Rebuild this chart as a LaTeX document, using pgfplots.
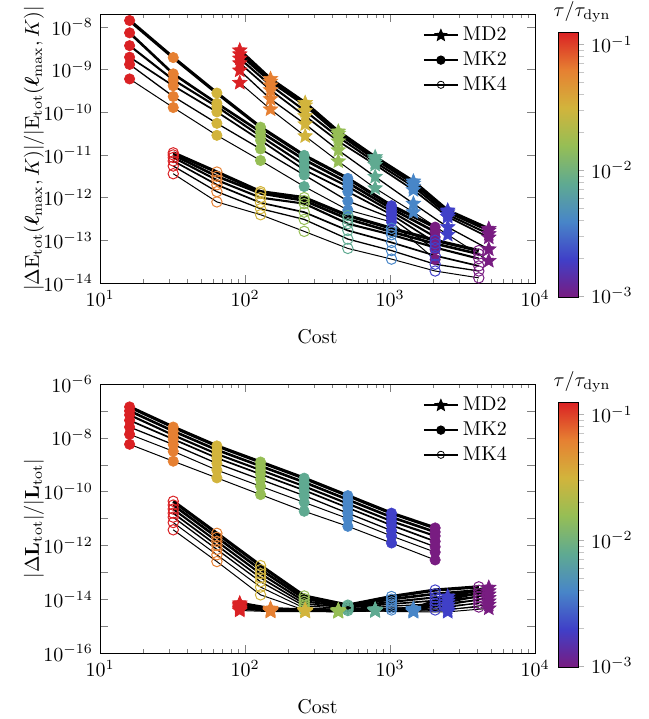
\documentclass[border=0pt]{standalone}
\usepackage{amsmath}
\usepackage{pgfplots}
\pgfplotsset{compat=1.18}
\usetikzlibrary{plotmarks}

\pgfdeclareplotmark{fstar}{%
  \pgfpathmoveto{\pgfpointpolar{90}{\pgfplotmarksize}}%
  \pgfpathlineto{\pgfpointpolar{126}{0.45\pgfplotmarksize}}%
  \pgfpathlineto{\pgfpointpolar{162}{\pgfplotmarksize}}%
  \pgfpathlineto{\pgfpointpolar{198}{0.45\pgfplotmarksize}}%
  \pgfpathlineto{\pgfpointpolar{234}{\pgfplotmarksize}}%
  \pgfpathlineto{\pgfpointpolar{270}{0.45\pgfplotmarksize}}%
  \pgfpathlineto{\pgfpointpolar{306}{\pgfplotmarksize}}%
  \pgfpathlineto{\pgfpointpolar{342}{0.45\pgfplotmarksize}}%
  \pgfpathlineto{\pgfpointpolar{18}{\pgfplotmarksize}}%
  \pgfpathlineto{\pgfpointpolar{54}{0.45\pgfplotmarksize}}%
  \pgfpathclose
  \pgfusepathqfillstroke}

\pgfplotsset{
  colormap={tol}{rgb255=(120,28,129) rgb255=(64,64,200) rgb255=(72,134,200) rgb255=(95,170,145) rgb255=(150,190,85) rgb255=(210,180,60) rgb255=(230,128,50) rgb255=(218,33,36)},
  mybase/.style={black, forget plot, scatter, point meta=explicit},
  mk2/.style={mybase, mark=*, mark size=2.6pt, mark options={line width=0.3pt}, scatter/use mapped color={draw=mapped color, fill=mapped color}},
  mk4/.style={mybase, mark=o, mark size=2.6pt, mark options={line width=0.5pt}, scatter/use mapped color={draw=mapped color}},
  md2/.style={mybase, mark=fstar, mark size=3.8pt, mark options={line width=0.3pt}, scatter/use mapped color={draw=mapped color, fill=mapped color}},
  wa/.style={line width=1.6pt}, wb/.style={line width=1.3pt}, wc/.style={line width=1.05pt},
  wd/.style={line width=0.85pt}, we/.style={line width=0.65pt}, wf/.style={line width=0.5pt},
}

\begin{document}
\begin{tikzpicture}
\path[use as bounding box] (0,0) rectangle (324.5pt,-359.5pt);

\begin{axis}[at={(50pt,-7pt)}, anchor=north west,
    scale only axis, width=217.5pt, height=134.5pt,
    xmode=log, ymode=log, xmin=10, xmax=1e4,
    xlabel={Cost}, xlabel style={yshift=-4.5pt}, ylabel shift=-7pt,
    major tick length=4pt, minor tick length=2pt,
    colormap name=tol, point meta min=-3.0103, point meta max=-0.9031,
    colorbar, colorbar style={
      scale only axis, width=10pt, height=132.5pt,
      at={(parent axis.north east)}, anchor=north west, xshift=3pt, yshift=-9pt,
      ytick={-3,-2,-1}, yticklabels={$10^{-3}$,$10^{-2}$,$10^{-1}$},
      minor ytick={-2.699,-2.523,-2.398,-2.301,-2.222,-2.155,-2.097,-2.046,-1.699,-1.523,-1.398,-1.301,-1.222,-1.155,-1.097,-1.046},
      ytick pos=right, yticklabel pos=right, tick align=outside,
      major tick length=3pt, minor tick length=3pt,
      tick style={gray!60}, minor tick style={gray!45},
      title={$\tau/\tau_{\mathrm{dyn}}$}, title style={yshift=-4.5pt, xshift=7pt}},
    legend style={draw=none, fill=none, at={(0.95,0.975)}, anchor=north east, row sep=0pt, inner sep=1pt},
    legend cell align=left,
  ymin=1e-14, ymax=2e-8, yminorticks=false,
  ytick={1e-14,1e-13,1e-12,1e-11,1e-10,1e-9,1e-8},
  ylabel={$|\Delta \mathrm{E}_{\mathrm{tot}}(\boldsymbol{\ell}_{\max},K)|/|\mathrm{E}_{\mathrm{tot}}(\boldsymbol{\ell}_{\max},K)|$}]
\addlegendimage{black, line width=1pt, mark=fstar, mark size=2.3pt}
\addlegendimage{black, line width=1pt, mark=*, mark size=1.8pt}
\addlegendimage{black, line width=1pt, mark=o, mark size=1.8pt, mark options={line width=0.4pt}}
\legend{MD2,MK2,MK4}
% MD2
\addplot[md2,wa] coordinates {(92,2.82e-9)[-0.903] (150,6.03e-10)[-1.204] (260,1.66e-10)[-1.505] (440,3.55e-11)[-1.806] (790,8.91e-12)[-2.107] (1450,2.40e-12)[-2.408] (2500,5.01e-13)[-2.709] (4800,1.86e-13)[-3.010]};
\addplot[md2,wb] coordinates {(92,2.29e-9)[-0.903] (150,5.25e-10)[-1.204] (260,1.45e-10)[-1.505] (440,3.16e-11)[-1.806] (790,7.94e-12)[-2.107] (1450,2.14e-12)[-2.408] (2500,4.57e-13)[-2.709] (4800,1.70e-13)[-3.010]};
\addplot[md2,wc] coordinates {(92,1.82e-9)[-0.903] (150,4.27e-10)[-1.204] (260,1.07e-10)[-1.505] (440,2.63e-11)[-1.806] (790,6.76e-12)[-2.107] (1450,1.82e-12)[-2.408] (2500,3.98e-13)[-2.709] (4800,1.41e-13)[-3.010]};
\addplot[md2,wd] coordinates {(92,1.41e-9)[-0.903] (150,3.31e-10)[-1.204] (260,8.13e-11)[-1.505] (440,2.09e-11)[-1.806] (790,5.89e-12)[-2.107] (1450,1.51e-12)[-2.408] (2500,3.55e-13)[-2.709] (4800,1.17e-13)[-3.010]};
\addplot[md2,we] coordinates {(92,9.55e-10)[-0.903] (150,2.04e-10)[-1.204] (260,5.25e-11)[-1.505] (440,1.29e-11)[-1.806] (790,3.09e-12)[-2.107] (1450,7.24e-13)[-2.408] (2500,2.04e-13)[-2.709] (4800,6.17e-14)[-3.010]};
\addplot[md2,wf] coordinates {(92,4.90e-10)[-0.903] (150,1.17e-10)[-1.204] (260,2.75e-11)[-1.505] (440,7.08e-12)[-1.806] (790,1.66e-12)[-2.107] (1450,4.57e-13)[-2.408] (2500,1.35e-13)[-2.709] (4800,3.31e-14)[-3.010]};
% MK2
\addplot[mk2,wa] coordinates {(16,1.41e-8)[-0.903] (32,1.91e-9)[-1.204] (64,2.82e-10)[-1.505] (128,4.47e-11)[-1.806] (256,9.77e-12)[-2.107] (512,2.82e-12)[-2.408] (1024,6.46e-13)[-2.709] (2048,2.04e-13)[-3.010]};
\addplot[mk2,wb] coordinates {(16,7.24e-9)[-0.903] (32,7.94e-10)[-1.204] (64,1.62e-10)[-1.505] (128,3.47e-11)[-1.806] (256,7.76e-12)[-2.107] (512,2.24e-12)[-2.408] (1024,5.50e-13)[-2.709] (2048,1.58e-13)[-3.010]};
\addplot[mk2,wc] coordinates {(16,3.63e-9)[-0.903] (32,5.75e-10)[-1.204] (64,1.35e-10)[-1.505] (128,2.75e-11)[-1.806] (256,5.89e-12)[-2.107] (512,1.82e-12)[-2.408] (1024,4.68e-13)[-2.709] (2048,1.20e-13)[-3.010]};
\addplot[mk2,wd] coordinates {(16,1.95e-9)[-0.903] (32,4.17e-10)[-1.204] (64,1.02e-10)[-1.505] (128,2.19e-11)[-1.806] (256,4.47e-12)[-2.107] (512,1.38e-12)[-2.408] (1024,3.98e-13)[-2.709] (2048,8.91e-14)[-3.010]};
\addplot[mk2,we] coordinates {(16,1.32e-9)[-0.903] (32,2.34e-10)[-1.204] (64,5.50e-11)[-1.505] (128,1.38e-11)[-1.806] (256,3.39e-12)[-2.107] (512,8.32e-13)[-2.408] (1024,3.31e-13)[-2.709] (2048,6.03e-14)[-3.010]};
\addplot[mk2,wf] coordinates {(16,6.03e-10)[-0.903] (32,1.29e-10)[-1.204] (64,2.88e-11)[-1.505] (128,7.41e-12)[-1.806] (256,1.82e-12)[-2.107] (512,5.13e-13)[-2.408] (1024,2.69e-13)[-2.709] (2048,3.55e-14)[-3.010]};
% MK4
\addplot[mk4,wa] coordinates {(32,1.12e-11)[-0.903] (64,3.98e-12)[-1.204] (128,1.38e-12)[-1.505] (256,1.00e-12)[-1.806] (512,3.80e-13)[-2.107] (1024,1.91e-13)[-2.408] (2048,1.00e-13)[-2.709] (4096,5.75e-14)[-3.010]};
\addplot[mk4,wb] coordinates {(32,1.00e-11)[-0.903] (64,3.16e-12)[-1.204] (128,1.26e-12)[-1.505] (256,8.51e-13)[-1.806] (512,3.16e-13)[-2.107] (1024,1.58e-13)[-2.408] (2048,8.32e-14)[-2.709] (4096,4.79e-14)[-3.010]};
\addplot[mk4,wc] coordinates {(32,8.71e-12)[-0.903] (64,2.57e-12)[-1.204] (128,1.00e-12)[-1.505] (256,7.24e-13)[-1.806] (512,2.45e-13)[-2.107] (1024,1.35e-13)[-2.408] (2048,6.76e-14)[-2.709] (4096,3.72e-14)[-3.010]};
\addplot[mk4,wd] coordinates {(32,7.24e-12)[-0.903] (64,2.00e-12)[-1.204] (128,7.59e-13)[-1.505] (256,4.57e-13)[-1.806] (512,1.70e-13)[-2.107] (1024,8.91e-14)[-2.408] (2048,4.37e-14)[-2.709] (4096,2.51e-14)[-3.010]};
\addplot[mk4,we] coordinates {(32,5.50e-12)[-0.903] (64,1.38e-12)[-1.204] (128,5.50e-13)[-1.505] (256,3.09e-13)[-1.806] (512,1.07e-13)[-2.107] (1024,5.75e-14)[-2.408] (2048,2.75e-14)[-2.709] (4096,1.91e-14)[-3.010]};
\addplot[mk4,wf] coordinates {(32,3.63e-12)[-0.903] (64,7.94e-13)[-1.204] (128,3.98e-13)[-1.505] (256,1.62e-13)[-1.806] (512,6.46e-14)[-2.107] (1024,3.63e-14)[-2.408] (2048,1.91e-14)[-2.709] (4096,1.32e-14)[-3.010]};
\end{axis}

\begin{axis}[at={(50pt,-192pt)}, anchor=north west,
    scale only axis, width=217.5pt, height=134.5pt,
    xmode=log, ymode=log, xmin=10, xmax=1e4,
    xlabel={Cost}, xlabel style={yshift=-4.5pt}, ylabel shift=-7pt,
    major tick length=4pt, minor tick length=2pt,
    colormap name=tol, point meta min=-3.0103, point meta max=-0.9031,
    colorbar, colorbar style={
      scale only axis, width=10pt, height=132.5pt,
      at={(parent axis.north east)}, anchor=north west, xshift=3pt, yshift=-9pt,
      ytick={-3,-2,-1}, yticklabels={$10^{-3}$,$10^{-2}$,$10^{-1}$},
      minor ytick={-2.699,-2.523,-2.398,-2.301,-2.222,-2.155,-2.097,-2.046,-1.699,-1.523,-1.398,-1.301,-1.222,-1.155,-1.097,-1.046},
      ytick pos=right, yticklabel pos=right, tick align=outside,
      major tick length=3pt, minor tick length=3pt,
      tick style={gray!60}, minor tick style={gray!45},
      title={$\tau/\tau_{\mathrm{dyn}}$}, title style={yshift=-4.5pt, xshift=7pt}},
    legend style={draw=none, fill=none, at={(0.95,0.975)}, anchor=north east, row sep=0pt, inner sep=1pt},
    legend cell align=left,
  ymin=1e-16, ymax=1e-6,
  ytick={1e-16,1e-15,1e-14,1e-13,1e-12,1e-11,1e-10,1e-9,1e-8,1e-7,1e-6},
  yticklabels={$10^{-16}$,,$10^{-14}$,,$10^{-12}$,,$10^{-10}$,,$10^{-8}$,,$10^{-6}$},
  yminorticks=false,
  ylabel={$|\Delta \mathbf{L}_{\mathrm{tot}}|/|\mathbf{L}_{\mathrm{tot}}|$}]
\addlegendimage{black, line width=1pt, mark=fstar, mark size=2.3pt}
\addlegendimage{black, line width=1pt, mark=*, mark size=1.8pt}
\addlegendimage{black, line width=1pt, mark=o, mark size=1.8pt, mark options={line width=0.4pt}}
\legend{MD2,MK2,MK4}
% MK2
\addplot[mk2,wa] coordinates {(16,1.41e-7)[-0.903] (32,2.51e-8)[-1.204] (64,5.01e-9)[-1.505] (128,1.26e-9)[-1.806] (256,3.16e-10)[-2.107] (512,7.08e-11)[-2.408] (1024,1.58e-11)[-2.709] (2048,4.47e-12)[-3.010]};
\addplot[mk2,wb] coordinates {(16,1.00e-7)[-0.903] (32,1.78e-8)[-1.204] (64,3.55e-9)[-1.505] (128,8.91e-10)[-1.806] (256,2.24e-10)[-2.107] (512,5.01e-11)[-2.408] (1024,1.12e-11)[-2.709] (2048,3.16e-12)[-3.010]};
\addplot[mk2,wc] coordinates {(16,7.08e-8)[-0.903] (32,1.26e-8)[-1.204] (64,2.51e-9)[-1.505] (128,6.31e-10)[-1.806] (256,1.58e-10)[-2.107] (512,3.55e-11)[-2.408] (1024,7.94e-12)[-2.709] (2048,2.24e-12)[-3.010]};
\addplot[mk2,wd] coordinates {(16,4.47e-8)[-0.903] (32,8.91e-9)[-1.204] (64,1.78e-9)[-1.505] (128,4.47e-10)[-1.806] (256,1.12e-10)[-2.107] (512,2.51e-11)[-2.408] (1024,5.62e-12)[-2.709] (2048,1.41e-12)[-3.010]};
\addplot[mk2,we] coordinates {(16,2.51e-8)[-0.903] (32,5.62e-9)[-1.204] (64,1.12e-9)[-1.505] (128,2.82e-10)[-1.806] (256,7.08e-11)[-2.107] (512,1.58e-11)[-2.408] (1024,3.55e-12)[-2.709] (2048,8.91e-13)[-3.010]};
\addplot[mk2,wf] coordinates {(16,1.35e-8)[-0.903] (32,3.16e-9)[-1.204] (64,6.31e-10)[-1.505] (128,1.58e-10)[-1.806] (256,3.98e-11)[-2.107] (512,1.00e-11)[-2.408] (1024,2.24e-12)[-2.709] (2048,5.62e-13)[-3.010]};
\addplot[mk2,wf] coordinates {(16,5.75e-9)[-0.903] (32,1.35e-9)[-1.204] (64,3.24e-10)[-1.505] (128,7.76e-11)[-1.806] (256,1.86e-11)[-2.107] (512,5.13e-12)[-2.408] (1024,1.23e-12)[-2.709] (2048,2.88e-13)[-3.010]};
% MK4
\addplot[mk4,wa] coordinates {(32,4.37e-11)[-0.903] (64,2.82e-12)[-1.204] (128,1.78e-13)[-1.505] (256,1.32e-14)[-1.806] (512,6.03e-15)[-2.107] (1024,1.26e-14)[-2.408] (2048,2.19e-14)[-2.709] (4096,2.88e-14)[-3.010]};
\addplot[mk4,wb] coordinates {(32,3.16e-11)[-0.903] (64,2.00e-12)[-1.204] (128,1.26e-13)[-1.505] (256,1.05e-14)[-1.806] (512,5.62e-15)[-2.107] (1024,1.00e-14)[-2.408] (2048,1.58e-14)[-2.709] (4096,2.14e-14)[-3.010]};
\addplot[mk4,wc] coordinates {(32,2.24e-11)[-0.903] (64,1.41e-12)[-1.204] (128,8.91e-14)[-1.505] (256,8.32e-15)[-1.806] (512,5.25e-15)[-2.107] (1024,7.94e-15)[-2.408] (2048,1.17e-14)[-2.709] (4096,1.58e-14)[-3.010]};
\addplot[mk4,wd] coordinates {(32,1.58e-11)[-0.903] (64,1.00e-12)[-1.204] (128,6.31e-14)[-1.505] (256,6.76e-15)[-1.806] (512,4.90e-15)[-2.107] (1024,6.61e-15)[-2.408] (2048,8.91e-15)[-2.709] (4096,1.20e-14)[-3.010]};
\addplot[mk4,we] coordinates {(32,1.12e-11)[-0.903] (64,7.08e-13)[-1.204] (128,4.47e-14)[-1.505] (256,5.62e-15)[-1.806] (512,4.47e-15)[-2.107] (1024,5.50e-15)[-2.408] (2048,6.76e-15)[-2.709] (4096,9.12e-15)[-3.010]};
\addplot[mk4,wf] coordinates {(32,7.08e-12)[-0.903] (64,4.47e-13)[-1.204] (128,2.82e-14)[-1.505] (256,4.68e-15)[-1.806] (512,4.17e-15)[-2.107] (1024,4.68e-15)[-2.408] (2048,5.25e-15)[-2.709] (4096,6.92e-15)[-3.010]};
\addplot[mk4,wf] coordinates {(32,3.80e-12)[-0.903] (64,2.51e-13)[-1.204] (128,1.45e-14)[-1.505] (256,3.98e-15)[-1.806] (512,3.80e-15)[-2.107] (1024,3.98e-15)[-2.408] (2048,3.98e-15)[-2.709] (4096,5.13e-15)[-3.010]};
% MD2
\addplot[md2,wa] coordinates {(92,7.08e-15)[-0.903] (150,4.47e-15)[-1.204] (260,3.98e-15)[-1.505] (440,3.98e-15)[-1.806] (790,4.17e-15)[-2.107] (1450,4.47e-15)[-2.408] (2500,1.26e-14)[-2.709] (4800,2.69e-14)[-3.010]};
\addplot[md2,wb] coordinates {(92,6.31e-15)[-0.903] (150,4.27e-15)[-1.204] (260,3.89e-15)[-1.505] (440,3.80e-15)[-1.806] (790,4.07e-15)[-2.107] (1450,4.27e-15)[-2.408] (2500,1.00e-14)[-2.709] (4800,2.00e-14)[-3.010]};
\addplot[md2,wc] coordinates {(92,5.62e-15)[-0.903] (150,4.07e-15)[-1.204] (260,3.80e-15)[-1.505] (440,3.72e-15)[-1.806] (790,3.98e-15)[-2.107] (1450,4.07e-15)[-2.408] (2500,7.94e-15)[-2.709] (4800,1.51e-14)[-3.010]};
\addplot[md2,wd] coordinates {(92,5.01e-15)[-0.903] (150,3.89e-15)[-1.204] (260,3.72e-15)[-1.505] (440,3.63e-15)[-1.806] (790,3.89e-15)[-2.107] (1450,3.89e-15)[-2.408] (2500,6.31e-15)[-2.709] (4800,1.12e-14)[-3.010]};
\addplot[md2,we] coordinates {(92,4.47e-15)[-0.903] (150,3.72e-15)[-1.204] (260,3.63e-15)[-1.505] (440,3.55e-15)[-1.806] (790,3.80e-15)[-2.107] (1450,3.72e-15)[-2.408] (2500,5.01e-15)[-2.709] (4800,8.32e-15)[-3.010]};
\addplot[md2,wf] coordinates {(92,4.17e-15)[-0.903] (150,3.63e-15)[-1.204] (260,3.55e-15)[-1.505] (440,3.47e-15)[-1.806] (790,3.72e-15)[-2.107] (1450,3.55e-15)[-2.408] (2500,3.98e-15)[-2.709] (4800,6.31e-15)[-3.010]};
\addplot[md2,wf] coordinates {(92,3.80e-15)[-0.903] (150,3.47e-15)[-1.204] (260,3.47e-15)[-1.505] (440,3.39e-15)[-1.806] (790,3.63e-15)[-2.107] (1450,3.39e-15)[-2.408] (2500,3.39e-15)[-2.709] (4800,4.57e-15)[-3.010]};
\end{axis}
\end{tikzpicture}
\end{document}
